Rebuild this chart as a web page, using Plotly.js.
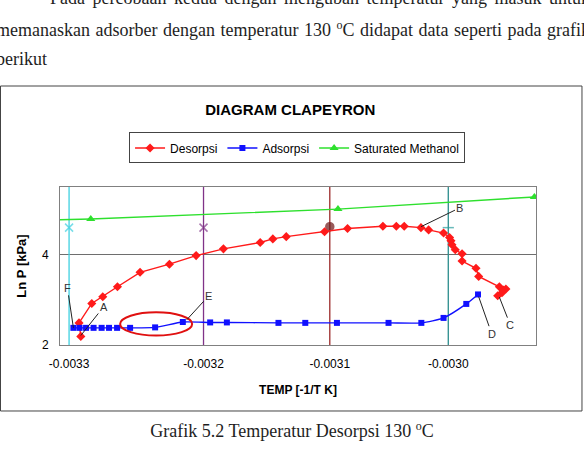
<!DOCTYPE html>
<html>
<head>
<meta charset="utf-8">
<script src="https://cdn.plot.ly/plotly-3.0.1.min.js"></script>
<style>
  html, body { margin:0; padding:0; background:#fff; }
  #wrap { position:relative; width:584px; height:462px; overflow:hidden; background:#fff; }
  #chart { position:absolute; left:0; top:0; width:584px; height:462px; }
  .doc { position:absolute; font-family:"Liberation Serif","Times New Roman",serif; font-size:18px; line-height:18px; color:#1e1e1e; z-index:10; }
  .just { text-align:justify; text-align-last:justify; }
  sup { font-size:12px; line-height:0; vertical-align:7px; }
</style>
</head>
<body>
<div id="wrap">
  <div id="chart"></div>
  <div class="doc just" style="left:50px; top:-11px; width:540px;">Pada percobaan kedua dengan mengubah temperatur yang masuk untuk</div>
  <div class="doc just" style="left:-4px; top:21px; width:594px;">memanaskan adsorber dengan temperatur 130 <sup>o</sup>C didapat data seperti pada grafik</div>
  <div class="doc" style="left:-4px; top:50px; width:300px;">berikut</div>
  <div class="doc" style="left:0px; top:422px; width:584px; text-align:center;">Grafik 5.2 Temperatur Desorpsi 130 <sup>o</sup>C</div>
</div>
<script>
// ---- data ----
const desX = [-0.0032895, -0.0032909, -0.0032809, -0.0032723, -0.0032608, -0.0032431, -0.0032201, -0.0031992, -0.0031778, -0.0031490, -0.0031391, -0.0031286, -0.0030986, -0.0030806, -0.0030529, -0.0030424, -0.0030362, -0.0030231, -0.0030171, -0.0030054, -0.0030007, -0.0029996, -0.0029988, -0.0029962, -0.0029909, -0.0029909, -0.0029800, -0.0029779, -0.0029617, -0.0029586, -0.0029566, -0.0029596, -0.0029630];
const desY = [2.19, 2.49, 2.92, 3.07, 3.29, 3.61, 3.79, 3.98, 4.13, 4.27, 4.35, 4.40, 4.51, 4.58, 4.63, 4.63, 4.63, 4.60, 4.55, 4.48, 4.38, 4.31, 4.22, 4.11, 4.02, 3.86, 3.70, 3.52, 3.29, 3.22, 3.24, 3.16, 3.09];

const adsX = [-0.0029784, -0.0029876, -0.0030054, -0.0030228, -0.0030485, -0.0030889, -0.0031137, -0.0031347, -0.0031751, -0.0031882, -0.0032096, -0.0032313, -0.0032509, -0.0032611, -0.0032674, -0.0032732, -0.0032795, -0.0032854, -0.0032905, -0.0032953];
const adsY = [3.12, 2.91, 2.60, 2.49, 2.49, 2.49, 2.49, 2.49, 2.50, 2.50, 2.51, 2.39, 2.38, 2.38, 2.38, 2.38, 2.38, 2.38, 2.38, 2.38];

const satX = [-0.0033105, -0.0032817, -0.0030881, -0.0029343];
const satY = [4.77, 4.79, 5.01, 5.28];

// vertical reference lines (30, 40, 50, 60 °C)
const refX = [-0.0032987, -0.0031934, -0.0030945, -0.0030017];
const refY = [4.60, 4.60, 4.62, 4.60];
const refLow = 2.0, refHigh = 5.55;

const xTickVals = [-0.0032987, -0.0031934, -0.0030945, -0.0030017];
const xTickText = ['-0.0033', '-0.0032', '-0.0031', '-0.0030'];
const yTickVals = [2, 4];

// point labels
const labelText = ['A', 'B', 'C', 'D', 'E', 'F'];
const labelX = [-0.0032895, -0.0030231, -0.0029617, -0.0029779, -0.0032065, -0.0032953];
const labelY = [2.21, 4.62, 3.06, 3.07, 2.56, 2.38];
const labelDx = [23, 39, 11, 13, 22, -6];
const labelDy = [-29, -19, 28, 37, -24, -40];

const FONT = 'Liberation Sans, Arial, sans-serif';

// ---- styles ----
const refColors = ['#3fd0e0', '#803388', '#9c2b2b', '#2a8c8c'];
const refSymbols = ['x-thin-open', 'x-thin-open', 'circle', 'line-ew-open'];
const refMarkColors = ['#3fd0e0', '#803388', '#6e1818', '#2a9c9c'];

const traces = [];
refX.forEach((xv, i) => {
  traces.push({
    x: [xv, xv, xv], y: [refLow, refY[i], refHigh],
    mode: 'lines+markers', type: 'scatter', showlegend: false, hoverinfo: 'skip',
    line: {color: refColors[i], width: 1.3},
    marker: {symbol: refSymbols[i], size: [0, 8, 0], color: refMarkColors[i],
             line: {color: refMarkColors[i], width: 1.5}}
  });
});

traces.push({
  name: 'Desorpsi', x: desX, y: desY, type: 'scatter', mode: 'lines+markers',
  line: {color: '#ff1a1a', width: 1.4},
  marker: {symbol: 'diamond', size: 7, color: '#ff1a1a'}
});
traces.push({
  name: 'Adsorpsi', x: adsX, y: adsY, type: 'scatter', mode: 'lines+markers',
  line: {color: '#1010ff', width: 1.4, shape: 'spline', smoothing: 0.6},
  marker: {symbol: 'square', size: 6, color: '#1010ff'}
});
traces.push({
  name: 'Saturated Methanol', x: satX, y: satY, type: 'scatter', mode: 'lines+markers',
  line: {color: '#2ee02e', width: 1.4},
  marker: {symbol: 'triangle-up', size: 8, color: '#2ee02e'}
});

const annotations = labelText.map((t, i) => ({
  x: labelX[i], y: labelY[i], xref: 'x', yref: 'y',
  text: t, showarrow: true, arrowhead: 0, arrowwidth: 1, arrowcolor: '#222',
  ax: labelDx[i], ay: labelDy[i], standoff: 0,
  font: {family: FONT, size: 11, color: '#333'}
}));

const layout = {
  width: 584, height: 462,
  margin: {l: 60, r: 48, t: 187, b: 117, pad: 0},
  paper_bgcolor: '#fff', plot_bgcolor: '#fff',
  font: {family: FONT, size: 12, color: '#000'},
  title: {text: 'DIAGRAM CLAPEYRON', font: {family: FONT, size: 15, weight: 'bold', color: '#000'},
          xref: 'container', x: 0.497, xanchor: 'center', yref: 'container', y: 0.762, yanchor: 'middle'},
  showlegend: true,
  legend: {orientation: 'h', xref: 'paper', yref: 'paper', x: 0.498, xanchor: 'center', y: 1.345, yanchor: 'top',
           bgcolor: '#fff', bordercolor: '#444', borderwidth: 1, itemwidth: 30,
           font: {family: FONT, size: 12, color: '#000'}, traceorder: 'normal'},
  xaxis: {
    range: [-0.0033058, -0.002933], tickmode: 'array', tickvals: xTickVals, ticktext: xTickText,
    showgrid: false, zeroline: false, showline: true, mirror: true, linecolor: '#808080', linewidth: 1,
    ticks: '', ticklabelstandoff: 8, tickfont: {family: FONT, size: 12, color: '#000'},
    title: {text: 'TEMP [-1/T K]', font: {family: FONT, size: 12, weight: 'bold', color: '#000'}, standoff: 15},
    automargin: false
  },
  yaxis: {
    range: [2, 5.5], tickmode: 'array', tickvals: yTickVals,
    showgrid: true, gridcolor: '#6e6e6e', gridwidth: 1.4, zeroline: false,
    showline: true, mirror: true, linecolor: '#808080', linewidth: 1,
    ticks: '', ticklabelstandoff: 8, tickfont: {family: FONT, size: 12, color: '#000'},
    title: {text: 'Ln P [kPa]', font: {family: FONT, size: 13, weight: 'bold', color: '#000'}, standoff: 12},
    automargin: false
  },
  shapes: [
    {type: 'rect', xref: 'paper', yref: 'paper', x0: -0.125, x1: 1.0966, y0: -0.4177, y1: 1.6392,
     line: {color: '#444', width: 1}, fillcolor: 'rgba(0,0,0,0)', layer: 'below'},
    {type: 'circle', xref: 'x', yref: 'y', x0: -0.0032587, x1: -0.0032023, y0: 2.21, y1: 2.725,
     line: {color: '#e01010', width: 2}}
  ],
  annotations: annotations
};

Plotly.newPlot('chart', traces, layout, {displayModeBar: false, staticPlot: true});
</script>
</body>
</html>
